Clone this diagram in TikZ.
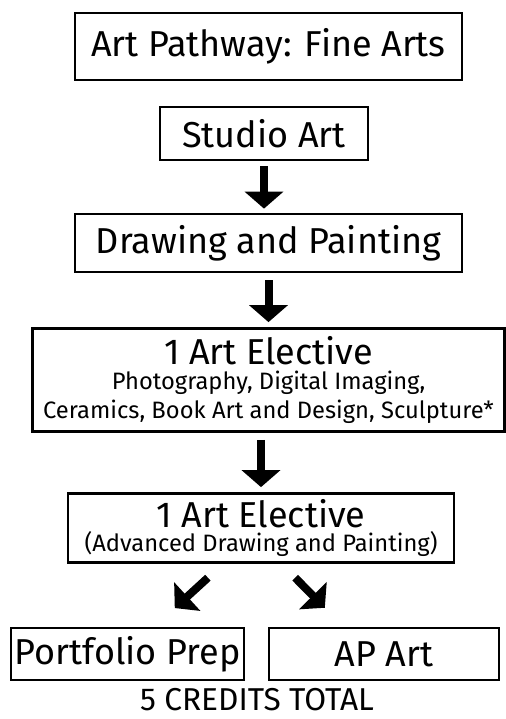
\documentclass[tikz,border=0pt]{standalone}
\usepackage{fontspec}
\setmainfont{Fira Sans}
\usetikzlibrary{arrows.meta,calc}
\tikzset{
  course/.style={draw, line width=0.055cm, inner sep=0pt, font=\bigtxt},
  flow/.style={line width=0.16cm, -{Triangle[width=0.76cm,length=0.34cm]}}
}
\newcommand{\bigtxt}{\fontsize{20.5}{23}\selectfont}
\newcommand{\smalltxt}{\fontsize{13.5}{16.4}\selectfont}
\begin{document}
\begin{tikzpicture}[x=0.02cm,y=-0.02cm]
\useasboundingbox (0,0) rectangle (506,719);
\node[course, minimum width=7.74cm, minimum height=1.34cm] (title) at (268.5,46.5) {Art Pathway: Fine Arts};
\node[course, minimum width=4.16cm, minimum height=1.06cm] (studio) at (264,133.5) {Studio Art};
\node[course, minimum width=7.74cm, minimum height=1.16cm] (drawing) at (268.5,243) {Drawing and Painting};
\node[course, minimum width=9.44cm, minimum height=2.06cm, align=center] (elective1) at (268.5,380) {1 Art Elective\\[-9.2pt]
  {\smalltxt Photography, Digital Imaging,}\\[-6.4pt]
  {\smalltxt Ceramics, Book Art and Design, Sculpture*}};
\node[course, minimum width=7.72cm, minimum height=1.38cm, align=center] (elective2) at (261,528) {1 Art Elective\\[-9.2pt]
  {\smalltxt (Advanced Drawing and Painting)}};
\node[course, minimum width=4.66cm, minimum height=1.04cm] (portfolio) at (127.5,654) {Portfolio Prep};
\node[course, minimum width=4.6cm, minimum height=1.04cm] (apart) at (384,654) {AP Art};
\node[font=\fontsize{18}{22}\selectfont] (total) at (257,700) {5 CREDITS TOTAL};
\draw[flow, shorten <=0.1cm, shorten >=0.08cm] (studio) -- (studio |- drawing.north);
\draw[flow, shorten <=0.14cm, shorten >=0.1cm] (drawing) -- (drawing |- elective1.north);
\draw[flow, shorten <=0.14cm, shorten >=0.1cm] (elective1.south -| elective2) -- (elective2.north);
\draw[flow, shorten <=0.41cm, shorten >=0.55cm] ($(elective2.south)+(-38,0)$) -- ($(portfolio.north)+(27,0)$);
\draw[flow, shorten <=0.39cm, shorten >=0.53cm] ($(elective2.south)+(20.5,0)$) -- ($(apart.north)+(-40.6,0)$);
\end{tikzpicture}
\end{document}
